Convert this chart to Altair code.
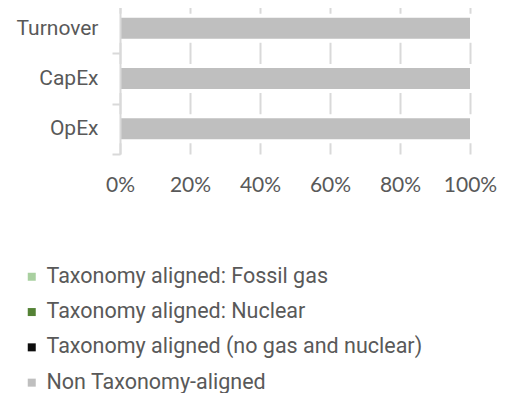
import altair as alt
import pandas as pd

categories = ["Turnover", "CapEx", "OpEx"]
series = [
    "Taxonomy aligned: Fossil gas",
    "Taxonomy aligned: Nuclear",
    "Taxonomy aligned (no gas and nuclear)",
    "Non Taxonomy-aligned",
]
series_colors = ["#a9d0a0", "#548235", "#0d0d0d", "#bfbfbf"]
fossil_gas = [0.0, 0.0, 0.0]
nuclear = [0.0, 0.0, 0.0]
aligned_no_gas_nuclear = [0.0, 0.0, 0.0]
non_aligned = [1.0, 1.0, 1.0]
x_ticks = [0, 0.2, 0.4, 0.6, 0.8, 1.0]

rows = []
for i, cat in enumerate(categories):
    for k, vals in enumerate([fossil_gas, nuclear, aligned_no_gas_nuclear, non_aligned]):
        rows.append({"category": cat, "series": series[k], "value": vals[i], "order": k})
df = pd.DataFrame(rows)

TEXT = "#595959"
GRID = "#d9d9d9"

y_enc = alt.Y(
    "category:N",
    sort=categories,
    scale=alt.Scale(paddingInner=0, paddingOuter=0),
    axis=alt.Axis(
        title=None,
        domainColor=GRID,
        domainWidth=2,
        tickColor=GRID,
        tickWidth=2,
        tickSize=8,
        tickBand="extent",
        labelFont="Roboto",
        labelFontSize=21,
        labelColor=TEXT,
        labelPadding=14,
        zindex=1,
    ),
)

x_axis = alt.Axis(
    title=None,
    format="%",
    values=x_ticks,
    grid=True,
    gridColor=GRID,
    gridWidth=2,
    domain=False,
    ticks=False,
    labelFont="Lato",
    labelFontSize=21,
    labelColor=TEXT,
    labelPadding=20,
    labelOverlap=False,
    labelBound=False,
    labelFlush=False,
)

backdrop = alt.Chart(df).mark_bar(size=25, color="white", stroke="white", strokeWidth=4).encode(
    y=y_enc,
    x=alt.X("sum(value):Q", scale=alt.Scale(domain=[0, 1]), axis=x_axis),
)

bars = alt.Chart(df).mark_bar(size=21).encode(
    y=y_enc,
    x=alt.X("value:Q", stack="zero", scale=alt.Scale(domain=[0, 1]), axis=x_axis),
    color=alt.Color(
        "series:N",
        sort=series,
        scale=alt.Scale(domain=series, range=series_colors),
        legend=alt.Legend(
            title=None,
            orient="none",
            legendX=-99,
            legendY=263,
            direction="vertical",
            symbolType="square",
            symbolSize=64,
            symbolStrokeWidth=0,
            labelFont="Roboto",
            labelFontSize=21.5,
            labelColor=TEXT,
            labelOffset=4,
            labelLimit=0,
            rowPadding=12.3,
            padding=0,
        ),
    ),
    order=alt.Order("order:Q"),
)

chart = (
    alt.layer(backdrop, bars)
    .properties(
        width=350,
        height=151,
        autosize=alt.AutoSizeParams(type="none"),
        padding={"top": -5, "left": 112, "right": 29, "bottom": 239},
    )
    .configure_view(stroke=None)
)

chart.save("out.html", embed_options={"renderer": "svg", "actions": False})
